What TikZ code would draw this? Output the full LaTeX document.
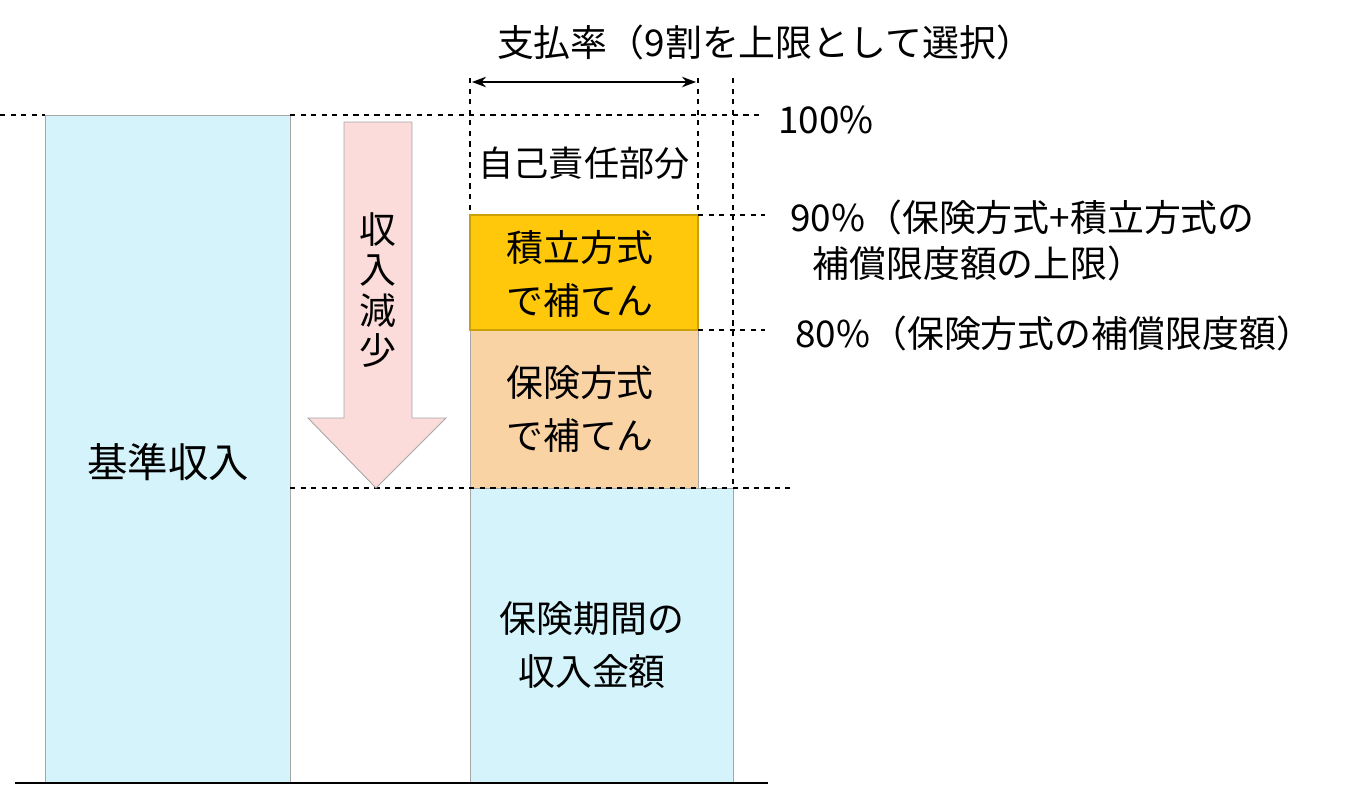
\documentclass[tikz,border=0pt]{standalone}
\usepackage{fontspec}
\setmainfont{Noto Sans CJK JP}
\usetikzlibrary{arrows.meta,shapes.arrows}
\definecolor{mycyan}{RGB}{213,243,250}
\definecolor{myorange}{RGB}{250,211,165}
\definecolor{mygold}{RGB}{255,200,10}
\definecolor{mypink}{RGB}{252,220,218}
\tikzset{
    bar/.style={draw=gray!70, line width=0.5pt},
    guide/.style={dashed, line width=0.6pt},
    lbl/.style={font=\fontsize{20}{24}\selectfont, align=center, inner sep=0pt},
    big/.style={font=\fontsize{21}{30}\selectfont, align=center, inner sep=0pt}
}
\begin{document}
\begin{tikzpicture}[x=0.02cm, y=-0.02cm]
    \useasboundingbox (0, 0) rectangle (1351, 785);
    % columns
    \draw[bar, fill=mycyan] (45, 115) rectangle (290, 783);
    \draw[bar, fill=mycyan] (470, 488) rectangle (733, 783);
    \draw[bar, fill=myorange] (470, 330) rectangle (698, 488);
    \draw[draw=mygold!80!black, line width=1pt, fill=mygold] (470, 215) rectangle (698, 330);
    \draw[line width=0.8pt] (15, 783) -- (768, 783);
    % guides
    \draw[guide] (0, 115) -- (45, 115);
    \draw[guide] (290, 115) -- (762, 115);
    \draw[guide] (290, 488) -- (790, 488);
    \draw[guide] (698, 215) -- (765, 215);
    \draw[guide] (698, 330) -- (765, 330);
    \draw[guide] (470, 78) -- (470, 215);
    \draw[guide] (698, 78) -- (698, 215);
    \draw[guide] (733, 78) -- (733, 488);
    % decrease arrow
    \draw[bar, fill=mypink] (344, 122) -- (412, 122) -- (412, 418) -- (446, 418)
        -- (376, 488) -- (308, 418) -- (344, 418) -- cycle;
    \node[big, font=\fontsize{21}{23}\selectfont] (drop) at (378, 290) {収\\入\\減\\少};
    % width arrow
    \coordinate (rateL) at (472, 82);
    \coordinate (rateR) at (696, 82);
    \draw[{Stealth[length=8pt]}-{Stealth[length=8pt]}, line width=0.8pt] (rateL) -- (rateR);
    \node[lbl, font=\fontsize{21}{24}\selectfont] (rate) at (765, 42) {支払率（9割を上限として選択）};
    % texts
    \node[big, font=\fontsize{23}{30}\selectfont] (base) at (168, 462) {基準収入};
    \node[lbl] (self) at (584, 163) {自己責任部分};
    \node[big] (reserve) at (580, 274) {積立方式\\で補てん};
    \node[big] (insure) at (580, 409) {保険方式\\で補てん};
    \node[big] (period) at (592, 645) {保険期間の\\ 収入金額};
    \node[lbl, font=\fontsize{21}{24}\selectfont, anchor=west] (p100) at (778, 120) {100\%};
    \node[lbl, font=\fontsize{21}{26}\selectfont, anchor=north west, align=left] (p90) at (790, 200)
        {90\%（保険方式+積立方式の\\\hspace{0.6em}補償限度額の上限）};
    \node[lbl, font=\fontsize{21}{24}\selectfont, anchor=west] (p80) at (795, 333) {80\%（保険方式の補償限度額）};
\end{tikzpicture}
\end{document}
